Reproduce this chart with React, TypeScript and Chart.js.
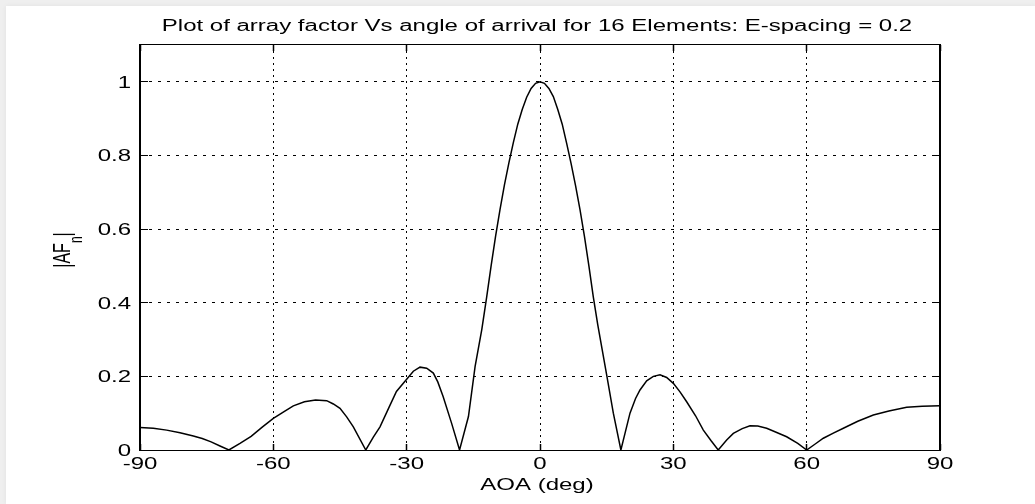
import React, { useEffect, useRef } from "react";
import { Chart, registerables } from "chart.js";

Chart.register(...registerables);

// ---- data ----
const angleDeg = [
  -90, -87, -84, -81, -78, -76, -74, -72, -70, -67.5, -65, -62.5, -60, -57.5, -55.5, -53, -50.5, -48, -46.5, -45,
  -43.5, -42, -39.2, -37.5, -36, -34, -32.3, -30, -28.5, -27, -25.5, -24, -23, -21.8, -19.9, -18.1, -16.1, -14.6,
  -13.1, -12, -11, -10, -9, -8, -7, -6, -5, -4, -3, -2, -1, 0, 1, 2, 3, 4, 5, 6, 7, 8, 9, 10, 11, 12, 13, 14, 15,
  16.5, 18.2, 20.25, 21.5, 22.5, 24, 25.5, 27, 28.5, 30, 31.5, 33, 35, 36.75, 38.5, 40.1, 42, 43.5, 45.5, 47.25,
  49, 51, 53, 55.5, 58, 60, 62, 63.75, 66, 68.25, 71.5, 75, 78.5, 82.5, 86, 90,
];
const afMagnitude = [
  0.061, 0.059, 0.054, 0.047, 0.038, 0.031, 0.022, 0.011, 0.0, 0.018, 0.037, 0.062, 0.086, 0.105, 0.12, 0.131,
  0.136, 0.134, 0.125, 0.113, 0.09, 0.063, 0.0, 0.035, 0.063, 0.115, 0.159, 0.192, 0.214, 0.225, 0.222, 0.209,
  0.185, 0.145, 0.073, 0.0, 0.091, 0.227, 0.327, 0.415, 0.5, 0.58, 0.653, 0.72, 0.78, 0.835, 0.885, 0.925,
  0.958, 0.982, 0.996, 1.0, 0.996, 0.982, 0.96, 0.925, 0.885, 0.833, 0.778, 0.718, 0.653, 0.58, 0.5, 0.415, 0.34,
  0.272, 0.204, 0.1, 0.0, 0.1, 0.14, 0.163, 0.188, 0.2, 0.204, 0.197, 0.181, 0.158, 0.131, 0.093, 0.054, 0.025, 0.0,
  0.027, 0.045, 0.058, 0.066, 0.065, 0.059, 0.049, 0.036, 0.018, 0.0, 0.017, 0.032, 0.046, 0.059, 0.078, 0.095,
  0.106, 0.116, 0.119, 0.12,
];
const xTickValues = [-90, -60, -30, 0, 30, 60, 90];
const xTickLabels = ["-90", "-60", "-30", "0", "30", "60", "90"];
const yTickValues = [0, 0.2, 0.4, 0.6, 0.8, 1];
const yTickLabels = ["0", "0.2", "0.4", "0.6", "0.8", "1"];
const titleText = "Plot of array factor Vs angle of arrival for 16 Elements: E-spacing = 0.2";
const xAxisTitle = "AOA (deg)";
const yAxisMain = "|AF";
const yAxisSub = "n";
const yAxisEnd = "|";

const FONT = '"Liberation Sans", Arial, Helvetica, sans-serif';
const SX = 1.5;

function stretchedText(ctx: CanvasRenderingContext2D, text: string, x: number, y: number, align: CanvasTextAlign, size: number) {
  ctx.save();
  ctx.translate(x, y);
  ctx.scale(SX, 1);
  ctx.font = `${size}px ${FONT}`;
  ctx.textAlign = align;
  ctx.textBaseline = "alphabetic";
  ctx.fillStyle = "#000";
  ctx.fillText(text, 0, 0);
  ctx.restore();
}

const framePlugin = {
  id: "matlabFrame",
  afterDraw(chart: any) {
    const { ctx, chartArea: ca, scales } = chart;
    const xs = scales.x;
    const ys = scales.y;
    ctx.save();
    ctx.fillStyle = "#000";
    const w = ca.right - ca.left;
    const h = ca.bottom - ca.top;
    // box
    ctx.fillRect(ca.left - 1, ca.top - 1, w + 2, 1);
    ctx.fillRect(ca.left - 1, ca.bottom, w + 2, 1);
    ctx.fillRect(ca.left - 1, ca.top - 1, 2, h + 2);
    ctx.fillRect(ca.right - 1, ca.top - 1, 2, h + 2);
    // inward ticks
    xTickValues.forEach((v) => {
      const px = Math.round(xs.getPixelForValue(v) - 0.5);
      ctx.fillRect(px - 0.25, ca.bottom - 6, 1.5, 6);
      ctx.fillRect(px - 0.25, ca.top, 1.5, 6);
    });
    yTickValues.forEach((v) => {
      const py = Math.round(ys.getPixelForValue(v) - 0.5);
      ctx.fillRect(ca.left, py, 8, 1);
      ctx.fillRect(ca.right - 8, py, 8, 1);
    });
    ctx.restore();

    // tick labels
    xTickValues.forEach((v, i) => {
      stretchedText(ctx, xTickLabels[i], xs.getPixelForValue(v), ca.bottom + 19, "center", 16);
    });
    yTickValues.forEach((v, i) => {
      stretchedText(ctx, yTickLabels[i], ca.left - 9, ys.getPixelForValue(v) + 6, "right", 16);
    });
    const cx = (ca.left + ca.right) / 2 - 3;
    stretchedText(ctx, titleText, cx, ca.top - 14, "center", 16);
    stretchedText(ctx, xAxisTitle, cx, ca.bottom + 40, "center", 16);

    // y axis title, rotated, with subscript
    ctx.save();
    ctx.translate(70, (ca.top + ca.bottom) / 2 + 2.5);
    ctx.scale(SX, 1);
    ctx.rotate(-Math.PI / 2);
    ctx.fillStyle = "#000";
    ctx.textAlign = "left";
    ctx.textBaseline = "alphabetic";
    ctx.font = `16px ${FONT}`;
    const w1 = ctx.measureText(yAxisMain).width;
    const w3 = ctx.measureText(yAxisEnd).width;
    ctx.font = `12px ${FONT}`;
    const w2 = ctx.measureText(yAxisSub).width;
    const x0 = -(w1 + w2 + w3) / 2;
    ctx.font = `16px ${FONT}`;
    ctx.fillText(yAxisMain, x0, 0);
    ctx.font = `12px ${FONT}`;
    ctx.fillText(yAxisSub, x0 + w1, 8);
    ctx.font = `16px ${FONT}`;
    ctx.fillText(yAxisEnd, x0 + w1 + w2, 0);
    ctx.restore();
  },
};

export default function App() {
  const canvasRef = useRef<HTMLCanvasElement | null>(null);

  useEffect(() => {
    const canvas = canvasRef.current;
    if (!canvas) return;
    const points = angleDeg.map((a, i) => ({ x: a, y: afMagnitude[i] }));
    const chart = new Chart(canvas, {
      type: "line",
      data: {
        datasets: [
          {
            data: points,
            borderColor: "#000",
            borderWidth: 1.5,
            pointRadius: 0,
            tension: 0,
            fill: false,
          },
        ],
      },
      options: {
        animation: false,
        responsive: false,
        maintainAspectRatio: false,
        devicePixelRatio: 1,
        layout: { padding: { left: 140, right: 95, top: 45, bottom: 54 } },
        plugins: {
          legend: { display: false },
          title: { display: false },
          tooltip: { enabled: false },
        },
        scales: {
          x: {
            type: "linear",
            min: -90,
            max: 90,
            afterBuildTicks: (s: any) => {
              s.ticks = xTickValues.map((v) => ({ value: v }));
            },
            afterFit: (s: any) => {
              s.height = 0;
            },
            ticks: { display: false },
            grid: { color: "#000", lineWidth: 1, drawTicks: false },
            border: { display: false, dash: [2, 4] },
          },
          y: {
            type: "linear",
            min: 0,
            max: 1.1,
            afterBuildTicks: (s: any) => {
              s.ticks = yTickValues.map((v) => ({ value: v }));
            },
            afterFit: (s: any) => {
              s.width = 0;
            },
            ticks: { display: false },
            grid: { color: "#000", lineWidth: 1, drawTicks: false },
            border: { display: false, dash: [3, 6] },
          },
        },
      },
      plugins: [framePlugin],
    } as any);
    return () => chart.destroy();
  }, []);

  return (
    <div style={{ position: "fixed", left: 0, top: 0, width: 1035, height: 504, background: "#efefef", overflow: "hidden" }}>
      <div
        style={{
          position: "absolute",
          left: 6,
          top: 6,
          right: 0,
          bottom: 0,
          background: "#fff",
          boxShadow: "0 0 5px rgba(0,0,0,0.06)",
        }}
      />
      <canvas
        ref={canvasRef}
        width={1035}
        height={504}
        style={{ position: "absolute", left: 0, top: 0, width: 1035, height: 504 }}
      />
    </div>
  );
}
